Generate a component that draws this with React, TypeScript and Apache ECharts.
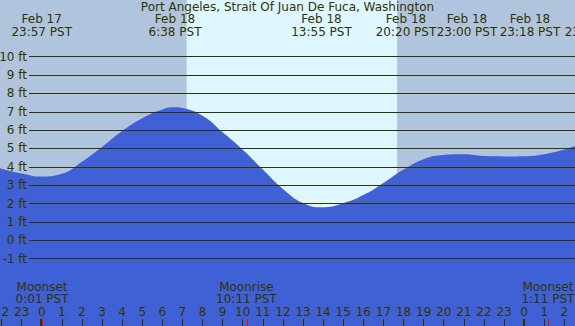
import React, { useEffect, useRef } from "react";
import * as echarts from "echarts";

const title = "Port Angeles, Strait Of Juan De Fuca, Washington";

// tide curve: hours relative to Feb 18 00:00 PST, height in ft
const tideHours = [-2.08, -1, 0, 1, 2, 3, 4, 5, 6, 6.63, 7, 8, 9, 10, 11, 12, 13, 13.94, 15, 16, 17, 18, 19, 20, 21, 22, 23, 24, 25, 26, 26.55];
const tideFeet = [3.93, 3.64, 3.47, 3.62, 4.28, 5.08, 5.95, 6.65, 7.13, 7.25, 7.2, 6.78, 5.88, 4.93, 3.85, 2.8, 2.03, 1.8, 2.02, 2.46, 3.12, 3.85, 4.42, 4.65, 4.68, 4.59, 4.57, 4.58, 4.69, 4.94, 5.14];

// sunrise / sunset (hours)
const sunrise = 7.21;
const sunset = 17.68;

// horizontal reference levels (ft)
const ftLevels = [-1, 0, 1, 2, 3, 4, 5, 6, 7, 8, 9, 10];

// hour ticks
const hourTicks = [-2, -1, 0, 1, 2, 3, 4, 5, 6, 7, 8, 9, 10, 11, 12, 13, 14, 15, 16, 17, 18, 19, 20, 21, 22, 23, 24, 25, 26];
const hourTickLabels = ["22", "23", "0", "1", "2", "3", "4", "5", "6", "7", "8", "9", "10", "11", "12", "13", "14", "15", "16", "17", "18", "19", "20", "21", "22", "23", "0", "1", "2"];
const midnightHours = [0, 24];

// tide event labels (top)
const tideEventDates = ["Feb 17", "Feb 18", "Feb 18", "Feb 18", "Feb 18", "Feb 18", "Feb 18"];
const tideEventTimes = ["23:57 PST", "6:38 PST", "13:55 PST", "20:20 PST", "23:00 PST", "23:18 PST", "23:59 PST"];
const tideEventLabelX = [41.7, 175, 321.5, 406, 467, 530, 595];

// moon events (bottom)
const moonHours = [0.0167, 10.183, 25.183];
const moonNames = ["Moonset", "Moonrise", "Moonset"];
const moonTimes = ["0:01 PST", "10:11 PST", "1:11 PST"];

const X_MIN = -2.075;
const X_MAX = 26.53;
const Y_MIN = -4.67;
const Y_MAX = 13.09;

const TEXT = "#333300";
const FONT = '"DejaVu Sans", sans-serif';
const NIGHT = "#B0C4DE";
const DAY = "#DDF6FF";
const TIDE = "#4060D6";

export default function App() {
  const ref = useRef<HTMLDivElement>(null);
  useEffect(() => {
    document.body.style.margin = "0";
    const chart = echarts.init(ref.current!, null, { renderer: "svg" });
    const levelLines = ftLevels.map((v) => [
      { coord: [-0.63, v], name: `${v} ft` },
      { coord: [X_MAX, v] },
    ]);
    const tickLen = 7 / 18.36;
    const midnightLines = midnightHours.map((h) => [
      { coord: [h - 0.03, Y_MIN], lineStyle: { color: TEXT, width: 2 }, label: { show: false } },
      { coord: [h - 0.03, Y_MIN + tickLen] },
    ]);
    const moonLines = moonHours.map((h) => [
      { coord: [h + 0.03, Y_MIN], lineStyle: { color: "#FF0000", width: 1 }, label: { show: false } },
      { coord: [h + 0.03, Y_MIN + tickLen] },
    ]);
    chart.setOption({
      animation: false,
      backgroundColor: DAY,
      grid: { left: 0, right: 0, top: 0, bottom: 0, containLabel: false, outerBoundsMode: "none" },
      xAxis: {
        type: "value",
        min: X_MIN,
        max: X_MAX,
        z: 10,
        axisLine: { show: false, onZero: false },
        splitLine: { show: false },
        axisTick: {
          show: true,
          inside: true,
          length: 7,
          customValues: hourTicks,
          lineStyle: { color: TEXT, width: 1 },
        },
        axisLabel: {
          show: true,
          inside: true,
          customValues: hourTicks,
          margin: 8,
          color: TEXT,
          fontSize: 12,
          fontFamily: FONT,
          formatter: (v: number) => {
            const i = hourTicks.indexOf(Math.round(v));
            return i >= 0 ? hourTickLabels[i] : "";
          },
        },
      },
      yAxis: { type: "value", min: Y_MIN, max: Y_MAX, show: false, splitLine: { show: false } },
      series: [
        {
          type: "line",
          z: 1,
          data: [],
          symbol: "none",
          markArea: {
            silent: true,
            itemStyle: { color: NIGHT },
            data: [
              [{ xAxis: X_MIN }, { xAxis: sunrise }],
              [{ xAxis: sunset }, { xAxis: X_MAX }],
            ],
          },
        },
        {
          type: "line",
          z: 2,
          data: tideHours.map((h, i) => [h, tideFeet[i]]),
          smooth: 0.5,
          symbol: "none",
          lineStyle: { width: 0 },
          areaStyle: { color: TIDE, opacity: 1, origin: "start" },
          silent: true,
        },
        {
          type: "line",
          z: 3,
          data: [],
          symbol: "none",
          markLine: {
            silent: true,
            symbol: ["none", "none"],
            lineStyle: { color: TEXT, width: 1, type: "solid" },
            label: {
              show: true,
              position: "start",
              formatter: "{b}",
              color: TEXT,
              fontSize: 12,
              fontFamily: FONT,
              distance: 2,
            },
            data: [...levelLines, ...midnightLines, ...moonLines],
          },
        },
      ],
    });

    const textStyle = (text: string, x: number, y: number) => ({
      type: "text",
      silent: true,
      z: 20,
      style: {
        text,
        x,
        y,
        fill: TEXT,
        font: `12px ${FONT}`,
        textAlign: "center",
        textVerticalAlign: "middle",
        align: "center",
        verticalAlign: "middle",
      },
    });
    const graphics: any[] = [textStyle(title, 287.5, 7)];
    tideEventDates.forEach((d, i) => {
      graphics.push(textStyle(d, tideEventLabelX[i], 19));
      graphics.push(textStyle(tideEventTimes[i], tideEventLabelX[i], 32));
    });
    moonHours.forEach((h, i) => {
      const px = chart.convertToPixel({ xAxisIndex: 0 }, h) as number;
      graphics.push(textStyle(moonNames[i], px, 287));
      graphics.push(textStyle(moonTimes[i], px, 299));
    });
    chart.setOption({ graphic: graphics });
    return () => chart.dispose();
  }, []);
  return <div ref={ref} style={{ width: 575, height: 326 }} />;
}
